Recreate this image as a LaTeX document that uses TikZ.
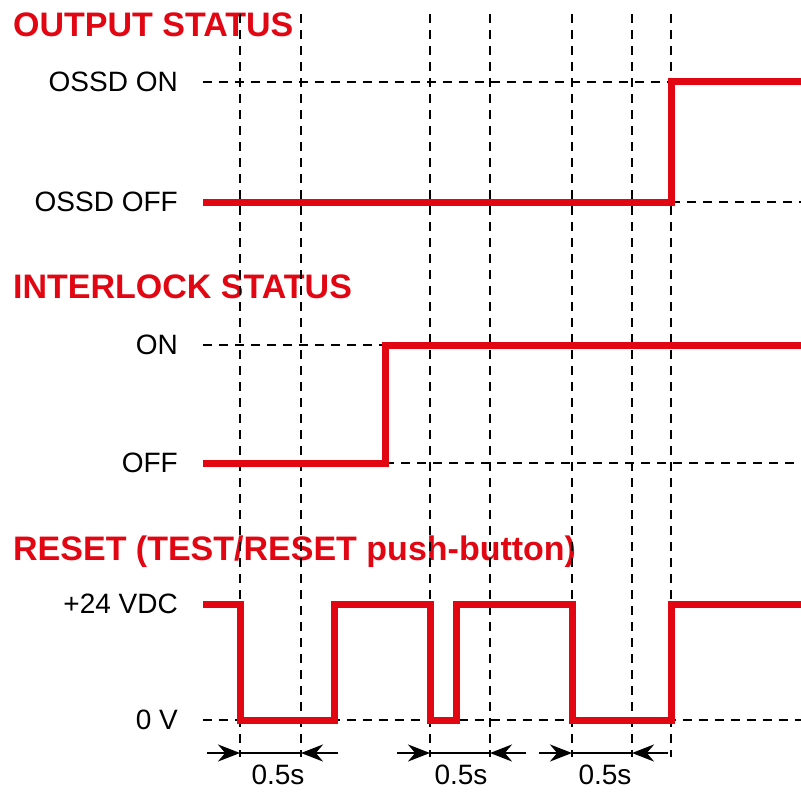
\documentclass[tikz,border=0pt]{standalone}
\usepackage{fontspec}
\setmainfont{Liberation Sans}
\usepackage{tikz}
\usetikzlibrary{arrows.meta}

\definecolor{sigred}{RGB}{226,6,19}

\begin{document}
\begin{tikzpicture}[x=1pt, y=-1pt,
        signal/.style={line width=7pt, sigred, line join=miter},
        guide/.style={line width=2.5pt, dash pattern=on 9pt off 7pt},
        heading/.style={anchor=base west, inner sep=0pt, text=sigred, font=\fontsize{34}{34}\selectfont\bfseries},
        level/.style={anchor=east, inner sep=0pt, font=\fontsize{28}{28}\selectfont},
        span/.style={line width=2.5pt, -{Stealth[length=22pt, width=17pt]}}]
        \useasboundingbox (0,0) rectangle (801,792);

        % Section titles
        \node[heading] (outtitle) at (13,37) {OUTPUT STATUS};
        \node[heading] (locktitle) at (13,298) {INTERLOCK STATUS};
        \node[heading] (resettitle) at (13,560) {RESET (TEST/RESET push-button)};

        % Level labels
        \node[level] (ossdon) at (178,82) {OSSD ON};
        \node[level] (ossdoff) at (178,202) {OSSD OFF};
        \node[level] (lockon) at (178,345) {ON};
        \node[level] (lockoff) at (178,463) {OFF};
        \node[level] (high) at (178,604) {+24 VDC};
        \node[level] (low) at (178,720) {0 V};

        % Draw vertical time marks
        \draw[guide] (240,14) -- (240,757);
        \draw[guide] (301,14) -- (301,757);
        \draw[guide] (430,14) -- (430,757);
        \draw[guide] (490,14) -- (490,757);
        \draw[guide] (572,14) -- (572,757);
        \draw[guide] (632,14) -- (632,757);
        \draw[guide] (671,14) -- (671,757);

        % Draw horizontal reference levels
        \draw[guide] (203,82) -- (671,82);
        \draw[guide] (671,202) -- (801,202);
        \draw[guide] (203,345) -- (385,345);
        \draw[guide] (385,463) -- (801,463);
        \draw[guide] (203,720) -- (801,720);

        % Output status signal
        \draw[signal] (203,202) -- (671,202) -- (671,82) -- (801,82);

        % Interlock status signal
        \draw[signal] (203,463) -- (385,463) -- (385,345) -- (801,345);

        % Reset push-button signal
        \draw[signal] (203,604) -- (240,604) -- (240,720) -- (334,720) -- (334,604)
            -- (430,604) -- (430,720) -- (456,720) -- (456,604)
            -- (572,604) -- (572,720) -- (671,720) -- (671,604) -- (801,604);

        % Draw 0.5s intervals
        \draw[span] (207,753) -- (240,753);
        \draw[line width=2.5pt] (240,753) -- (301,753);
        \draw[span] (338,753) -- (301,753);
        \node[level, anchor=center] (dt1) at (278,775) {0.5s};

        \draw[span] (397,753) -- (430,753);
        \draw[line width=2.5pt] (430,753) -- (490,753);
        \draw[span] (526,753) -- (490,753);
        \node[level, anchor=center] (dt2) at (461,775) {0.5s};

        \draw[span] (539,753) -- (572,753);
        \draw[line width=2.5pt] (572,753) -- (632,753);
        \draw[span] (668,753) -- (632,753);
        \node[level, anchor=center] (dt3) at (605,775) {0.5s};
    \end{tikzpicture}
\end{document}
